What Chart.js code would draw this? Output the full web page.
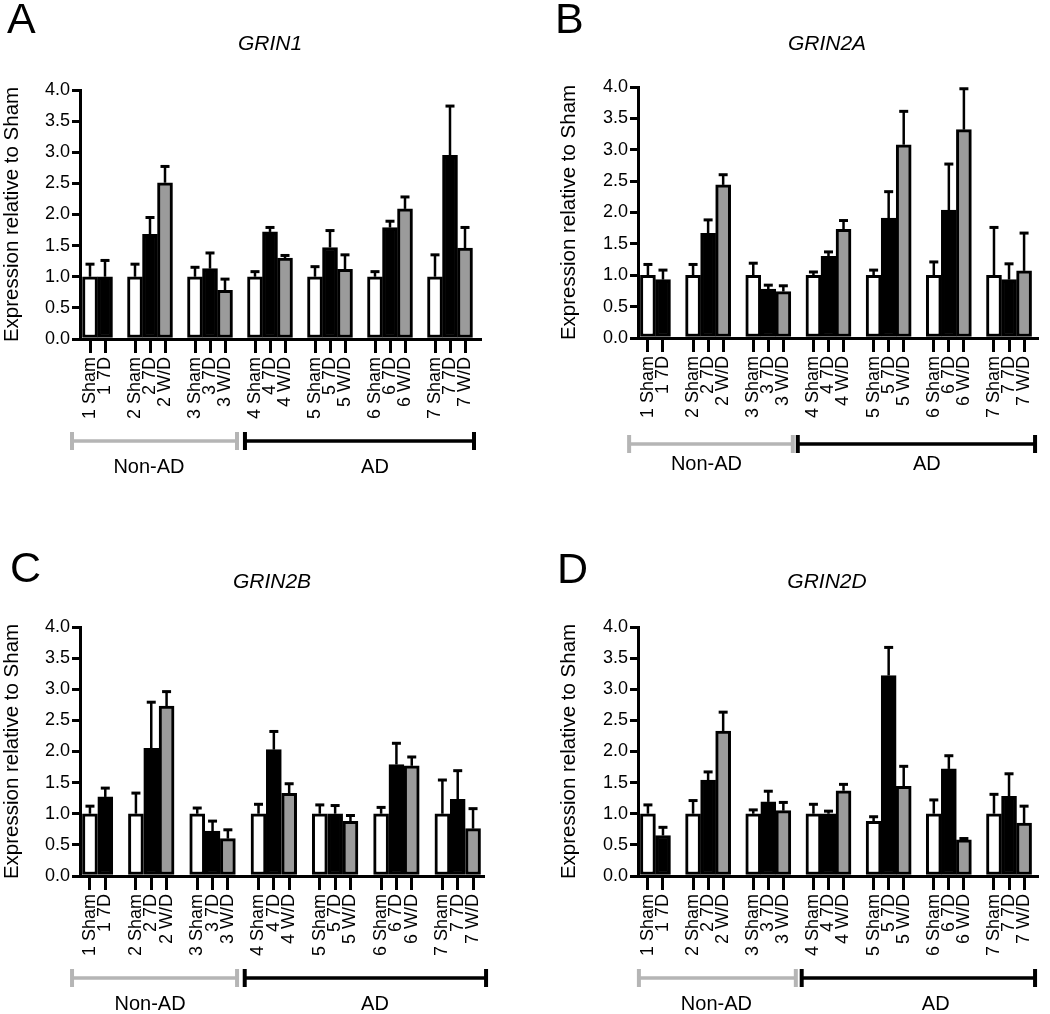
<!DOCTYPE html>
<html><head><meta charset="utf-8">
<script src="https://cdn.jsdelivr.net/npm/chart.js@4.4.0/dist/chart.umd.min.js"></script>
<style>
html,body{margin:0;padding:0;background:#fff;}
#wrap{position:relative;width:1050px;height:1014px;overflow:hidden;background:#fff;}
canvas{position:absolute;}
</style></head><body>
<div id="wrap">
<canvas id="cA" width="520" height="500" style="left:0;top:0"></canvas>
<canvas id="cB" width="530" height="500" style="left:520px;top:0"></canvas>
<canvas id="cC" width="520" height="514" style="left:0;top:500px"></canvas>
<canvas id="cD" width="530" height="514" style="left:520px;top:500px"></canvas>
</div>
<script>
// ---- data ----
const categories = ["1 Sham","1 7D","2 Sham","2 7D","2 W/D","3 Sham","3 7D","3 W/D","4 Sham","4 7D","4 W/D","5 Sham","5 7D","5 W/D","6 Sham","6 7D","6 W/D","7 Sham","7 7D","7 W/D"];
const grin1Mean  = [1.00,1.00,1.00,1.68,2.51,1.00,1.13,0.78,1.00,1.72,1.30,1.00,1.47,1.12,1.00,1.79,2.09,1.00,2.95,1.46];
const grin1Sem   = [0.21,0.27,0.21,0.28,0.27,0.16,0.26,0.19,0.09,0.08,0.05,0.17,0.28,0.24,0.09,0.11,0.20,0.36,0.80,0.34];
const grin2aMean = [1.00,0.93,1.00,1.67,2.44,1.00,0.78,0.74,1.00,1.30,1.73,1.00,1.91,3.08,1.00,2.04,3.32,1.00,0.93,1.07];
const grin2aSem  = [0.18,0.16,0.18,0.22,0.17,0.20,0.07,0.10,0.06,0.08,0.15,0.09,0.43,0.54,0.22,0.74,0.66,0.77,0.26,0.61];
const grin2bMean = [1.00,1.27,1.00,2.05,2.73,1.00,0.72,0.60,1.00,2.03,1.33,1.00,1.00,0.88,1.00,1.79,1.77,1.00,1.23,0.76];
const grin2bSem  = [0.13,0.15,0.34,0.75,0.24,0.10,0.17,0.15,0.16,0.30,0.16,0.15,0.14,0.10,0.11,0.35,0.15,0.55,0.47,0.33];
const grin2dMean = [1.00,0.65,1.00,1.54,2.33,1.00,1.19,1.05,1.00,1.00,1.37,0.88,3.22,1.44,1.00,1.72,0.58,1.00,1.28,0.85];
const grin2dSem  = [0.15,0.14,0.22,0.14,0.31,0.07,0.18,0.14,0.16,0.05,0.11,0.08,0.46,0.33,0.23,0.22,0.03,0.32,0.37,0.28];
const genes = ["GRIN1","GRIN2A","GRIN2B","GRIN2D"];
const panelLetters = ["A","B","C","D"];
const groupNames = ["Non-AD","AD"];
const yAxisTitle = "Expression relative to Sham";

// ---- helpers ----
const FONT = "'Liberation Sans', Arial, Helvetica, sans-serif";
Chart.defaults.font.family = FONT;
Chart.defaults.color = '#000';
function slotOf(i){ return i + parseInt(categories[i], 10) - 1; }
function colorOf(label){
  if (/Sham/.test(label)) return '#ffffff';
  if (/W\/D/.test(label)) return '#9b9b9b';
  return '#000000';
}

const layouts = [
  {id:'cA', w:520, h:500, padL:0,  padR:40, padT:90,  yW:80, bottom:339, xMin:-0.667, xMax:26.0,
   letterXY:[7,33], titleXY:[270,50], brY:441, labY:473, nonAD:[-1.2,9.8,3.93], ad:[10.33,25.6,19.0]},
  {id:'cB', w:530, h:500, padL:37, padR:10, padT:87,  yW:81, bottom:338, xMin:-0.66, xMax:25.86,
   letterXY:[35,33], titleXY:[307,50], brY:444, labY:470, nonAD:[-1.25,9.63,3.89], ad:[9.96,25.73,18.54]},
  {id:'cC', w:520, h:514, padL:0,  padR:37, padT:127, yW:80, bottom:376, xMin:-0.65, xMax:25.65,
   letterXY:[10,82], titleXY:[272,88], brY:478, labY:510, nonAD:[-1.17,9.6,3.92], ad:[10.1,25.85,18.6]},
  {id:'cD', w:530, h:514, padL:37, padR:10, padT:127, yW:81, bottom:376, xMin:-0.66, xMax:25.86,
   letterXY:[37,83], titleXY:[307,88], brY:478, labY:510, nonAD:[-0.6,9.83,4.55], ad:[10.22,25.73,19.13]}
];
const means = [grin1Mean, grin2aMean, grin2bMean, grin2dMean];
const sems  = [grin1Sem, grin2aSem, grin2bSem, grin2dSem];

const errorBarPlugin = {
  id:'errorBars',
  afterDatasetsDraw(chart, args, opts){
    const ctx = chart.ctx, ys = chart.scales.y;
    const meta = chart.getDatasetMeta(0);
    const sem = opts.sem, mean = opts.mean;
    ctx.save();
    ctx.strokeStyle = '#000';
    meta.data.forEach((bar, i) => {
      const top = ys.getPixelForValue(mean[i] + sem[i]);
      const base = bar.y;
      ctx.lineWidth = 2.5;
      ctx.beginPath(); ctx.moveTo(bar.x, base); ctx.lineTo(bar.x, top); ctx.stroke();
      ctx.lineWidth = 3;
      ctx.beginPath(); ctx.moveTo(bar.x - 4.5, top + 0.5); ctx.lineTo(bar.x + 4.5, top + 0.5); ctx.stroke();
    });
    ctx.restore();
  }
};

const annotPlugin = {
  id:'annot',
  afterDraw(chart, args, o){
    const ctx = chart.ctx, xs = chart.scales.x;
    ctx.save();
    ctx.fillStyle = '#000';
    ctx.textBaseline = 'alphabetic';
    ctx.textAlign = 'left';
    ctx.font = '43px ' + FONT;
    ctx.fillText(o.letter, o.L.letterXY[0], o.L.letterXY[1]);
    ctx.textAlign = 'center';
    ctx.font = 'italic 21px ' + FONT;
    ctx.fillText(o.gene, o.L.titleXY[0], o.L.titleXY[1]);
    const drawBracket = (span, color) => {
      const x1 = xs.getPixelForValue(span[0]), x2 = xs.getPixelForValue(span[1]);
      const y = o.L.brY;
      ctx.strokeStyle = color;
      ctx.lineWidth = 3.5;
      ctx.beginPath(); ctx.moveTo(x1, y); ctx.lineTo(x2, y); ctx.stroke();
      ctx.lineWidth = 4;
      ctx.beginPath(); ctx.moveTo(x1, y - 9); ctx.lineTo(x1, y + 9); ctx.moveTo(x2, y - 9); ctx.lineTo(x2, y + 9); ctx.stroke();
    };
    drawBracket(o.L.nonAD, '#b5b5b5');
    drawBracket(o.L.ad, '#000000');
    ctx.font = '20px ' + FONT;
    ctx.fillStyle = '#000';
    ctx.fillText(groupNames[0], xs.getPixelForValue(o.L.nonAD[2]), o.L.labY);
    ctx.fillText(groupNames[1], xs.getPixelForValue(o.L.ad[2]), o.L.labY);
    ctx.restore();
  }
};

layouts.forEach((L, p) => {
  const ctx = document.getElementById(L.id).getContext('2d');
  const mean = means[p], sem = sems[p];
  new Chart(ctx, {
    type:'bar',
    data:{
      datasets:[{
        data: categories.map((c, i) => ({x: slotOf(i), y: mean[i]})),
        backgroundColor: categories.map(colorOf),
        borderColor:'#000000',
        borderWidth:3,
        borderSkipped:false,
        barThickness:15
      }]
    },
    options:{
      responsive:false, animation:false, events:[],
      layout:{padding:{left:L.padL, right:L.padR, top:L.padT, bottom:0}},
      plugins:{
        legend:{display:false}, tooltip:{enabled:false}, title:{display:false},
        errorBars:{mean:mean, sem:sem},
        annot:{L:L, gene:genes[p], letter:panelLetters[p]}
      },
      scales:{
        x:{
          type:'linear', min:L.xMin, max:L.xMax, offset:false,
          afterBuildTicks: s => { s.ticks = categories.map((c, i) => ({value: slotOf(i)})); },
          afterFit: s => { s.height = L.h - L.bottom; },
          grid:{display:true, drawOnChartArea:false, drawTicks:true, tickLength:14, lineWidth:3, color:'#000', offset:false},
          border:{display:true, width:3, color:'#000'},
          ticks:{autoSkip:false, maxRotation:90, minRotation:90, padding:4, font:{size:18}, color:'#000',
                 callback:(v, i) => categories[i]}
        },
        y:{
          min:0, max:4,
          afterFit: s => { s.width = L.yW; },
          ticks:{stepSize:0.5, callback:v => v.toFixed(1), font:{size:18}, color:'#000', padding:2},
          grid:{drawOnChartArea:false, tickLength:8, lineWidth:3, color:'#000'},
          border:{display:true, width:3, color:'#000'},
          title:{display:true, text:yAxisTitle, font:{size:20.5}, color:'#000', padding:0}
        }
      }
    },
    plugins:[errorBarPlugin, annotPlugin]
  });
});
</script>
</body></html>
